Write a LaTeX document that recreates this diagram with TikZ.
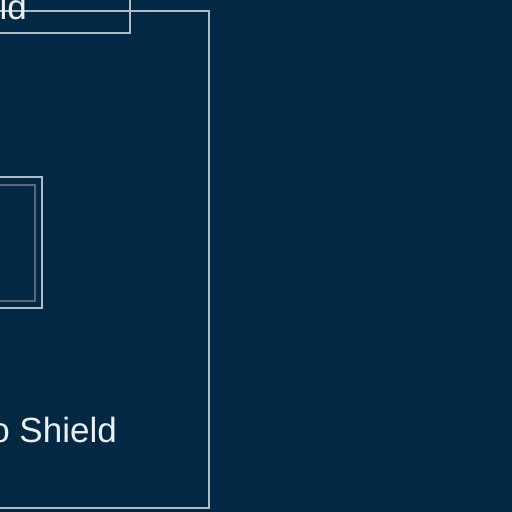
\documentclass[tikz,border=0pt]{standalone}
\usepackage{fontspec}
\setmainfont{Liberation Sans}
\definecolor{navy}{RGB}{3,40,68}
\definecolor{edgegrey}{RGB}{176,188,200}
\definecolor{dimgrey}{RGB}{88,104,120}
\definecolor{labelwhite}{RGB}{236,240,244}
\begin{document}
\begin{tikzpicture}[x=1pt,y=-1pt,
	panel/.style={draw=edgegrey, line width=1.5pt, inner sep=0pt},
	slot/.style={draw=dimgrey, line width=1.5pt, inner sep=0pt},
	lbl/.style={text=labelwhite, font=\fontsize{35}{40}\selectfont, inner sep=0pt}]
		\fill[navy] (0,0) rectangle (512,512);
		\useasboundingbox (0,0) rectangle (512,512);
		
		\node[panel, minimum width=409pt, minimum height=497pt] (shield) at (4.5,259.5) {};
		\node[panel, minimum width=330pt, minimum height=93pt] (head) at (-35,-13.5) {};
		\node[panel, minimum width=242pt, minimum height=131pt] (bay) at (-79,242.5) {};
		\node[slot, minimum width=235pt, minimum height=116pt] (bayin) at (-82.5,243) {};
		
		\node[lbl, anchor=base east] (headtext) at (27,19) {ld};
		\node[lbl, anchor=base east] (shieldtext) at (117,442) {o Shield};
		
	\end{tikzpicture}
\end{document}
